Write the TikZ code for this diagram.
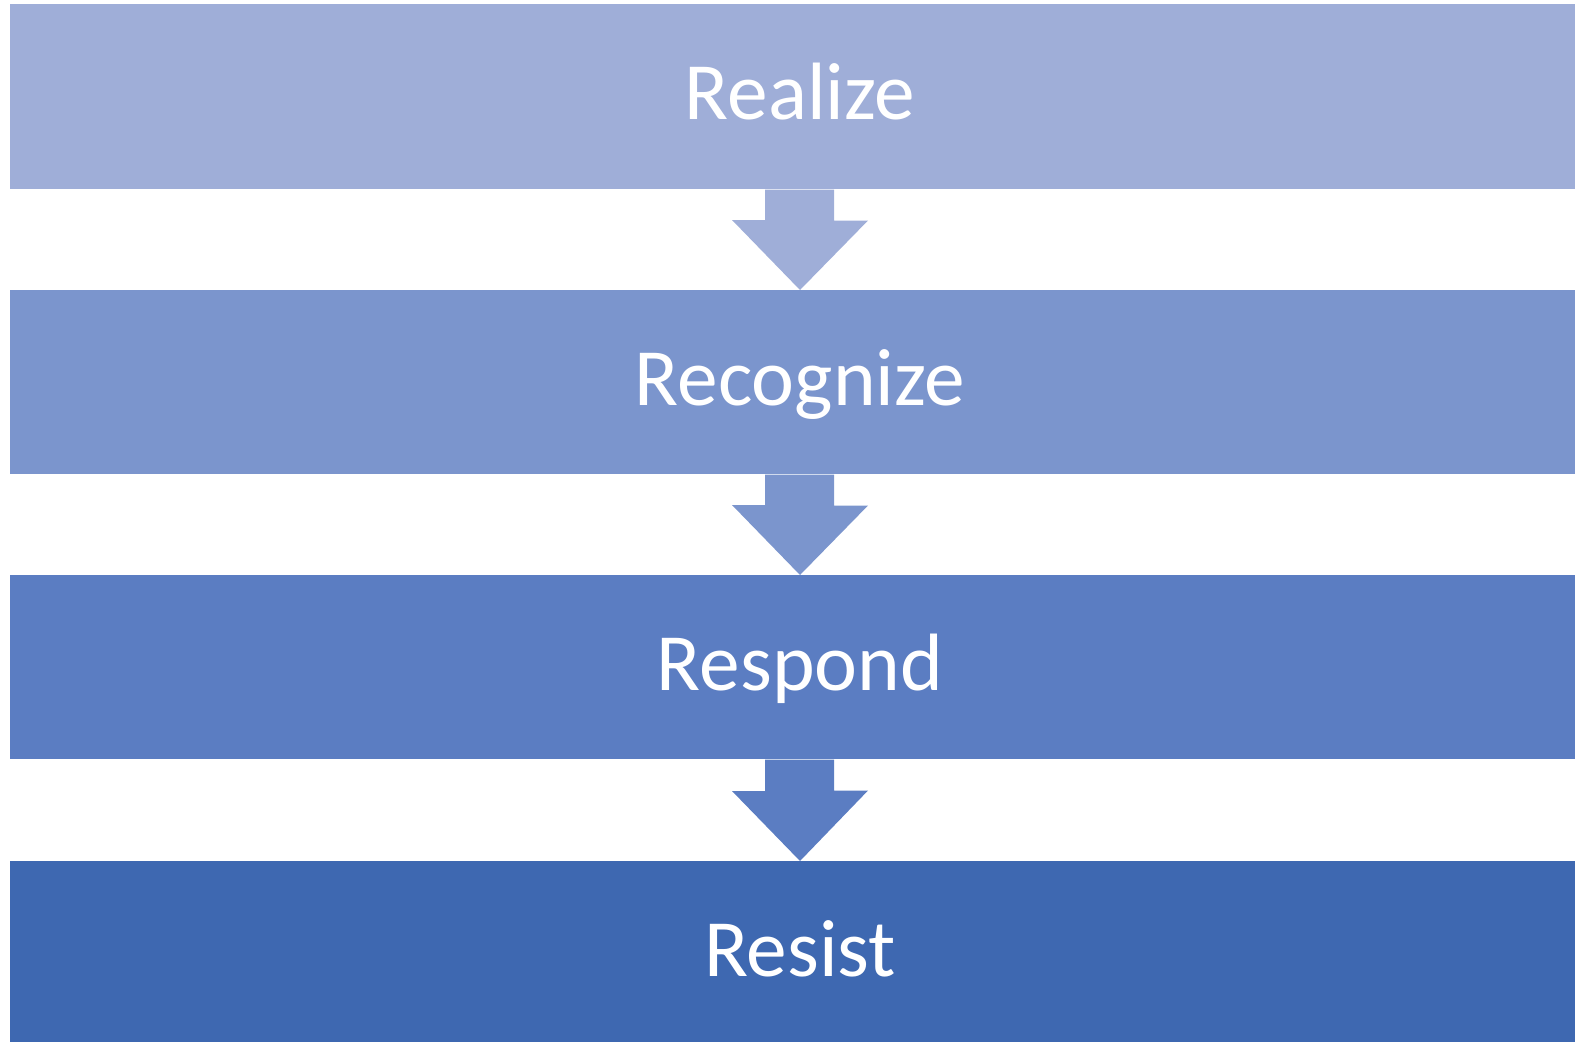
\documentclass[tikz,border=0pt]{standalone}
\usepackage{fontspec}
\setmainfont{Carlito}
\definecolor{cA}{RGB}{159,174,216}
\definecolor{cB}{RGB}{123,149,205}
\definecolor{cC}{RGB}{91,125,194}
\definecolor{cD}{RGB}{62,104,177}
\tikzset{
  box/.style={draw=none, inner sep=0pt, minimum width=1575*0.75pt, anchor=north west},
  lbl/.style={text=white, font=\fontsize{61}{72}\selectfont, anchor=base, inner sep=0pt},
}
\newcommand{\flowarrow}[3]{%
  \fill[#3] (#1.south -| 800,0) ++(-35,0) -- ++(69,0) -- ++(0,31) -- ++(34,0)
     -- (#2.north -| 800,0) -- ++(-68,-70) -- ++(33,0) -- cycle;}
\begin{document}
\begin{tikzpicture}[x=0.75pt,y=-0.75pt]
\useasboundingbox (0,0) rectangle (1575,1042);
\node[box, fill=cA, minimum height=185*0.75pt] (b1) at (10,4) {};
\node[box, fill=cB, minimum height=184*0.75pt] (b2) at (10,290) {};
\node[box, fill=cC, minimum height=184*0.75pt] (b3) at (10,575) {};
\node[box, fill=cD, minimum height=190*0.75pt] (b4) at (10,861) {};
\flowarrow{b1}{b2}{cA}
\flowarrow{b2}{b3}{cB}
\flowarrow{b3}{b4}{cC}
\node[lbl] (t1) at (800,119) {Realize};
\node[lbl] (t2) at (800,405) {Recognize};
\node[lbl] (t3) at (800,690) {Respond};
\node[lbl] (t4) at (800,976) {Resist};
\end{tikzpicture}
\end{document}
